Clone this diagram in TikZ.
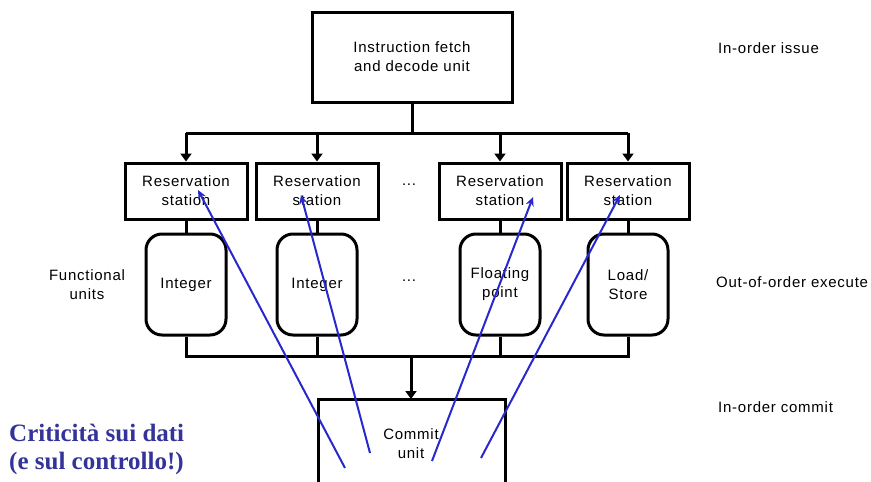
\documentclass[tikz,border=0pt]{standalone}
\usepackage{fontspec}
\setmainfont{Liberation Sans}[LetterSpace=5]
\newfontfamily\blueserif{Liberation Serif}
\usetikzlibrary{arrows.meta}
\definecolor{txtblue}{RGB}{51,51,153}
\definecolor{arrblue}{RGB}{40,40,205}
\tikzset{
  lbl/.style={font=\fontsize{15}{19}\selectfont, align=center, inner sep=0pt},
  box/.style={draw, line width=3pt, lbl},
  rsbox/.style={box, minimum width=122pt, minimum height=56pt},
  fubox/.style={box, rounded corners=16pt, minimum width=80pt, minimum height=101pt},
  bus/.style={line width=3pt},
  busarrow/.style={line width=3pt, -{Triangle[length=8pt,width=11pt]}},
  bluearrow/.style={draw=arrblue, line width=2pt, -{Stealth[length=9pt,width=8pt]}},
}
\begin{document}
\begin{tikzpicture}[x=1pt,y=-1pt]
\useasboundingbox (0,0) rectangle (871,482);
% top box
\node[box, minimum width=200pt, minimum height=90pt] (ifd) at (412,57) {Instruction fetch\\and decode unit};
% reservation stations
\node[rsbox] (rs1) at (186,191) {Reservation\\station};
\node[rsbox] (rs2) at (317,191) {Reservation\\station};
\node[rsbox] (rs3) at (500,191) {Reservation\\station};
\node[rsbox] (rs4) at (628,191) {Reservation\\station};
% functional units
\node[fubox] (fu1) at (186,284.5) {Integer};
\node[fubox] (fu2) at (317,284.5) {Integer};
\node[fubox] (fu3) at (500,284.5) {Floating\\point};
\node[fubox] (fu4) at (628,284.5) {Load/\\Store};
% commit unit
\node[lbl] (cu) at (411,444) {Commit\\unit};
\coordinate (cbl) at (318,490);
\coordinate (cbr) at (505,490);
\coordinate (ctl) at (318,399);
\coordinate (ctr) at (505,399);
\draw[bus] (cbl) -- (ctl) -- (ctr) -- (cbr);
% dots
\node[lbl] (d1) at (409,185) {...};
\node[lbl] (d2) at (409,281) {...};
% side labels
\node[lbl] (fun) at (87,285) {Functional\\units};
\node[lbl, anchor=west] (l1) at (718,48) {In-order issue};
\node[lbl, anchor=west] (l2) at (716,282) {Out-of-order execute};
\node[lbl, anchor=west] (l3) at (718,407) {In-order commit};
% top bus
\coordinate (tb) at (412,133);
\coordinate (tb1) at (186,133);
\coordinate (tb4) at (628,133);
\coordinate (tb2) at (317,133);
\coordinate (tb3) at (500,133);
\draw[bus] (ifd.south) -- (tb);
\draw[bus] (tb1) -- (tb4);
\draw[busarrow] (tb1) -- (rs1.north);
\draw[busarrow] (tb2) -- (rs2.north);
\draw[busarrow] (tb3) -- (rs3.north);
\draw[busarrow] (tb4) -- (rs4.north);
% rs to fu
\draw[bus] (rs1.south) -- (fu1.north);
\draw[bus] (rs2.south) -- (fu2.north);
\draw[bus] (rs3.south) -- (fu3.north);
\draw[bus] (rs4.south) -- (fu4.north);
% bottom bus
\coordinate (bb1) at (186,356);
\coordinate (bb2) at (317,356);
\coordinate (bb3) at (500,356);
\coordinate (bb4) at (628,356);
\coordinate (bb) at (411,356);
\draw[bus] (fu1.south) -- (bb1) -- (bb4) -- (fu4.south);
\draw[bus] (fu2.south) -- (bb2);
\draw[bus] (fu3.south) -- (bb3);
\draw[busarrow] (bb) -- (411,399);
% blue text
\node[font=\blueserif\bfseries\fontsize{25}{28}\selectfont, text=txtblue, align=left, anchor=west, inner sep=0pt] (crit) at (9,449) {Criticità sui dati\\(e sul controllo!)};
% blue arrows
\coordinate (s1) at (345,468);
\coordinate (s2) at (370,453);
\coordinate (s3) at (432,461);
\coordinate (s4) at (481,458);
\coordinate (t1) at (198,190);
\coordinate (t2) at (301,195);
\coordinate (t3) at (533,197);
\coordinate (t4) at (620,195);
\draw[bluearrow] (s1) -- (t1);
\draw[bluearrow] (s2) -- (t2);
\draw[bluearrow] (s3) -- (t3);
\draw[bluearrow] (s4) -- (t4);
\end{tikzpicture}
\end{document}
